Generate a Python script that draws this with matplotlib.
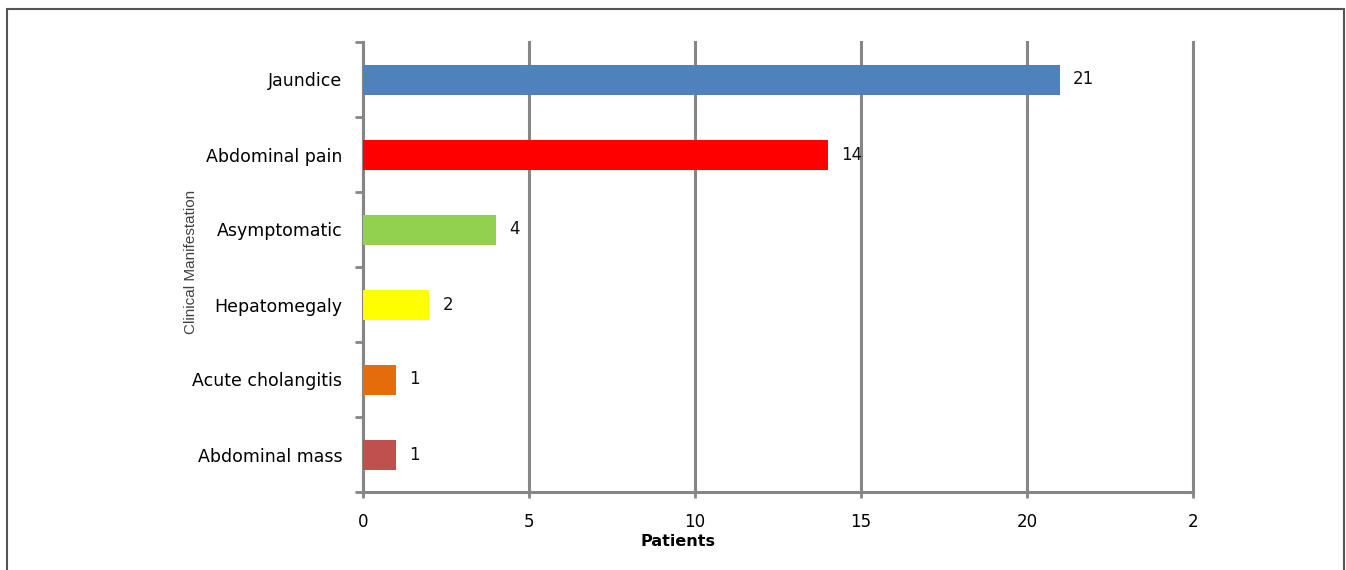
import matplotlib
matplotlib.use("Agg")
import matplotlib.pyplot as plt
from matplotlib.patches import Rectangle

categories = ["Jaundice", "Abdominal pain", "Asymptomatic", "Hepatomegaly",
              "Acute cholangitis", "Abdominal mass"]
patients = [21, 14, 4, 2, 1, 1]
colors = ["#4F81BD", "#FF0000", "#92D050", "#FFFF00", "#E46C0A", "#C0504D"]
x_ticks = [0, 5, 10, 15, 20, 25]
x_tick_labels = ["0", "5", "10", "15", "20", "2"]

W, H = 1346, 570
fig = plt.figure(figsize=(W / 100, H / 100), dpi=100)
ax = fig.add_axes([363 / W, 1 - 492 / H, (1193 - 363) / W, (492 - 42) / H])

grid_c = "#868686"
ypos = list(range(len(categories)))
ax.barh(ypos, patients, height=0.4, color=colors, zorder=3)
ax.set_xlim(0, 25)
ax.set_ylim(len(categories) - 0.5, -0.5)

for y, v in zip(ypos, patients):
    ax.annotate(str(v), (v, y), xytext=(13, 0), textcoords="offset pixels",
                ha="left", va="center", fontsize=12, color="#111111")

ax.set_xticks(x_ticks)
ax.set_xticklabels(x_tick_labels, fontsize=12)
ax.set_yticks(ypos)
ax.set_yticklabels(categories, fontsize=12.5)
ax.set_yticks([i - 0.5 for i in range(len(categories) + 1)], minor=True)

ax.tick_params(axis="y", which="major", length=0, pad=15)
ax.tick_params(axis="y", which="minor", length=6, width=2, color=grid_c, direction="out")
ax.tick_params(axis="x", which="major", length=4, width=2, color=grid_c, direction="out", pad=11)

ax.grid(axis="x", color=grid_c, linewidth=2.2, zorder=0)
for gl in ax.get_xgridlines():
    gl.set_clip_on(False)
ax.set_axisbelow(True)
for s in ["top", "right"]:
    ax.spines[s].set_visible(False)
for s in ["left", "bottom"]:
    ax.spines[s].set_color(grid_c)
    ax.spines[s].set_linewidth(2.2)

fig.text(678 / W, 1 - 541 / H, "Patients", ha="center", va="center",
         fontsize=11.5, fontweight="bold")
fig.text(191 / W, 1 - 262 / H, "Clinical Manifestation", ha="center", va="center",
         rotation=90, fontsize=11, color="#404040",
         family=["Liberation Sans Narrow", "Liberation Sans", "DejaVu Sans"])

fig.patches.append(Rectangle((7 / W, -0.05), (1344 - 7) / W, 1.05 - 9 / H,
                             transform=fig.transFigure, fill=False,
                             edgecolor="#555555", linewidth=1.5))

fig.savefig("out.png", dpi=100)
